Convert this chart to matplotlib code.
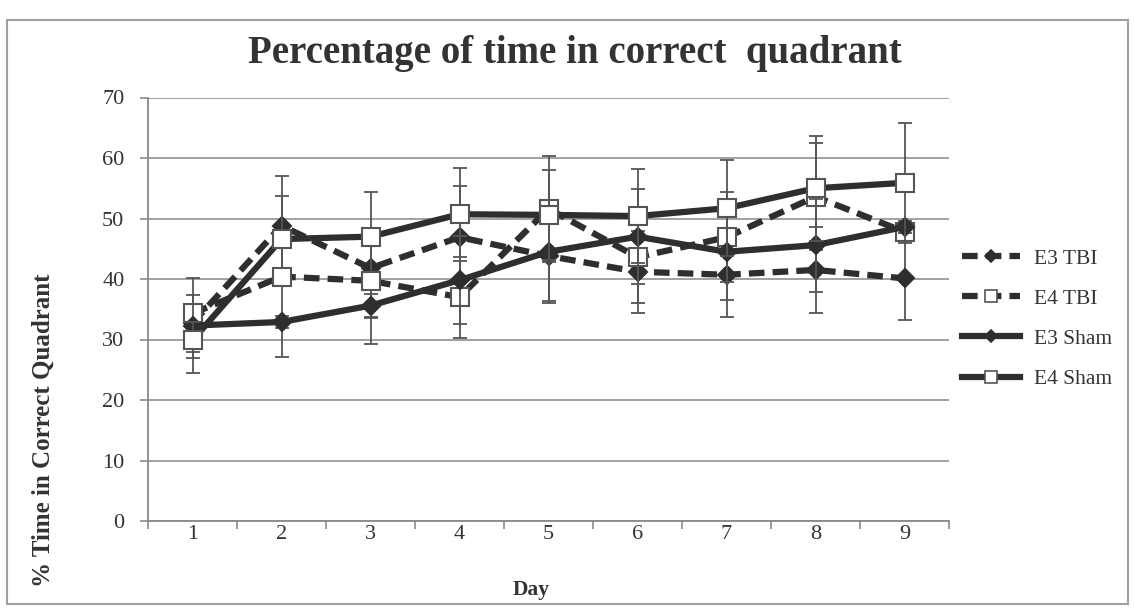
import matplotlib
matplotlib.use("Agg")
import matplotlib.pyplot as plt
from matplotlib.lines import Line2D
from matplotlib.patches import Rectangle

plt.rcParams["font.family"] = ["Liberation Serif", "DejaVu Serif"]

days = [1, 2, 3, 4, 5, 6, 7, 8, 9]
day_labels = ["1", "2", "3", "4", "5", "6", "7", "8", "9"]

e3_tbi = [32.7, 48.8, 41.8, 46.9, 43.8, 41.2, 40.7, 41.5, 40.1]
e3_tbi_err = [4.7, 8.2, 12.5, 8.5, 7.5, 6.8, 7.0, 7.1, 6.8]

e4_tbi = [34.3, 40.4, 39.7, 37.0, 51.6, 43.6, 46.9, 53.6, 47.8]
e4_tbi_err = [1.0, 13.3, 6.0, 6.7, 8.8, 7.6, 7.4, 8.8, 1.5]

e3_sham = [32.3, 32.9, 35.6, 39.8, 44.5, 47.0, 44.5, 45.6, 48.6]
e3_sham_err = [7.9, 1.0, 2.0, 7.3, 8.5, 7.9, 7.9, 7.7, 1.0]

e4_sham = [29.9, 46.6, 47.0, 50.7, 50.6, 50.4, 51.7, 55.0, 55.9]
e4_sham_err = [3.0, 1.2, 1.0, 7.7, 7.4, 7.7, 7.9, 8.7, 9.9]

series_names = ["E3 TBI", "E4 TBI", "E3 Sham", "E4 Sham"]

LINE = "#2e2e2e"
GRID = "#9a9a9a"
TEXT = "#333333"
ERR = "#555555"

fig = plt.figure(figsize=(11.34, 6.09), dpi=100)
fig.patch.set_facecolor("white")

# chart-area border
fig.add_artist(Rectangle((7 / 1134, 1 - 604 / 609), (1128 - 7) / 1134, (604 - 20) / 609,
                         transform=fig.transFigure, fill=False,
                         edgecolor="#a0a0a0", linewidth=1.5))

ax = fig.add_axes([148 / 1134, 1 - 521 / 609, (949 - 148) / 1134, (521 - 97.5) / 609])

ax.set_xlim(0.5, 9.5)
ax.set_ylim(0, 70)
ax.set_yticks(range(0, 71, 10))
ax.yaxis.grid(True, color=GRID, linewidth=1.3)
ax.set_axisbelow(True)
for s in ["top", "right"]:
    ax.spines[s].set_visible(False)
for s in ["left", "bottom"]:
    ax.spines[s].set_color("#8a8a8a")
    ax.spines[s].set_linewidth(1.3)

ax.set_xticks(days)
ax.set_xticklabels(day_labels)
ax.set_xticks([d + 0.5 for d in [0] + days], minor=True)
ax.tick_params(axis="x", which="major", length=0, pad=3, labelsize=16, labelcolor=TEXT)
ax.tick_params(axis="x", which="minor", length=6, width=1.2, color="#8a8a8a", direction="out")
ax.tick_params(axis="y", length=6, width=1.2, color="#8a8a8a", pad=11,
               labelsize=16, labelcolor=TEXT)

styles = [
    dict(y=e3_tbi, err=e3_tbi_err, ls=(0, (2.5, 1.3)), marker="D", ms=9, mfc=LINE, mec=LINE),
    dict(y=e4_tbi, err=e4_tbi_err, ls=(0, (2.5, 1.3)), marker="s", ms=13, mfc="white", mec="#555555"),
    dict(y=e3_sham, err=e3_sham_err, ls="-", marker="D", ms=9, mfc=LINE, mec=LINE),
    dict(y=e4_sham, err=e4_sham_err, ls="-", marker="s", ms=13, mfc="white", mec="#555555"),
]

handles = []
for i, (name, st) in enumerate(zip(series_names, styles)):
    ax.errorbar(days, st["y"], yerr=st["err"], fmt="none", ecolor=ERR,
                elinewidth=1.3, capsize=5, capthick=1.3, zorder=3 + i * 2)
    ax.plot(days, st["y"], linestyle=st["ls"], color=LINE, linewidth=4.5,
            marker=st["marker"], markersize=st["ms"], markerfacecolor=st["mfc"],
            markeredgecolor=st["mec"], markeredgewidth=1.5, zorder=4 + i * 2)
    handles.append(Line2D([], [], linestyle=st["ls"], color=LINE, linewidth=4.5,
                          marker=st["marker"], markersize=st["ms"] * 0.65,
                          markerfacecolor=st["mfc"], markeredgecolor=st["mec"],
                          markeredgewidth=1.2, label=name))

fig.legend(handles=handles, loc="upper left", bbox_to_anchor=(951 / 1134, 1 - 238 / 609),
           frameon=False, fontsize=15.5, handlelength=2.7, handletextpad=0.65,
           labelspacing=0.93, borderpad=0, labelcolor=TEXT)

fig.text(575 / 1134, 1 - 54 / 609, "Percentage of time in correct  quadrant",
         ha="center", va="center", fontsize=28, fontweight="bold", color=TEXT)
fig.text(43 / 1134, 1 - 430 / 609, "% Time in Correct Quadrant", rotation=90,
         ha="center", va="center", fontsize=18, fontweight="bold", color=TEXT)
fig.text(531 / 1134, 1 - 590 / 609, "Day", ha="center", va="center",
         fontsize=15.5, fontweight="bold", color=TEXT)

fig.savefig("out.png", dpi=100, facecolor="white")
